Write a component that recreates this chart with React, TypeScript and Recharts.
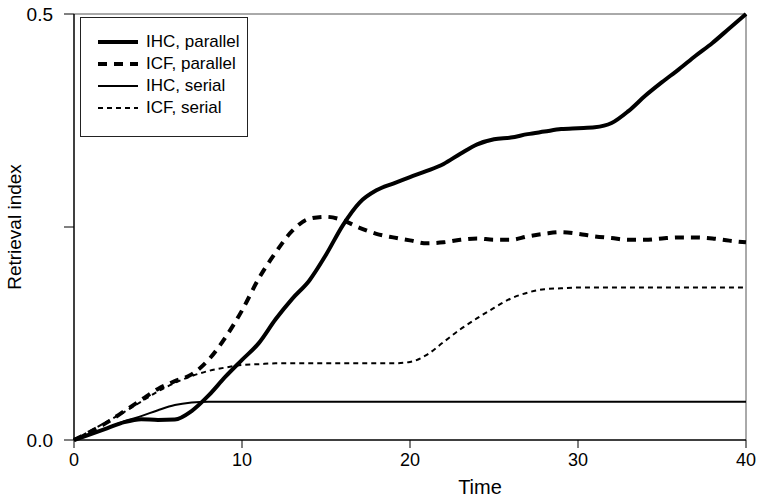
import React from 'react';
import { LineChart, Line, XAxis, YAxis, ReferenceLine } from 'recharts';

const times = [0, 1, 2, 3, 4, 5, 6, 7, 8, 9, 10, 11, 12, 13, 14, 15, 16, 17, 18, 19, 20,
  21, 22, 23, 24, 25, 26, 27, 28, 29, 30, 31, 32, 33, 34, 35, 36, 37, 38, 39, 40];

const ihcParallel = [0, 0.007, 0.014, 0.021, 0.0245, 0.0235, 0.024, 0.034, 0.052, 0.074, 0.094,
  0.1137, 0.1417, 0.166, 0.187, 0.2174, 0.252, 0.2787, 0.293, 0.301, 0.3086,
  0.3158, 0.324, 0.336, 0.347, 0.353, 0.355, 0.359, 0.362, 0.365, 0.366,
  0.367, 0.372, 0.386, 0.404, 0.42, 0.435, 0.451, 0.466, 0.483, 0.5];

const icfParallel = [0, 0.01, 0.021, 0.034, 0.047, 0.06, 0.069, 0.077, 0.094, 0.12, 0.152,
  0.1896, 0.22, 0.2457, 0.2596, 0.262, 0.258, 0.249, 0.242, 0.2378, 0.2343,
  0.2308, 0.232, 0.235, 0.2366, 0.235, 0.235, 0.239, 0.242, 0.244, 0.242,
  0.239, 0.237, 0.235, 0.235, 0.2366, 0.2378, 0.2378, 0.2366, 0.234, 0.232];

const ihcSerial = [0, 0.007, 0.014, 0.022, 0.028, 0.035, 0.041, 0.044, 0.045, 0.045, 0.045,
  0.045, 0.045, 0.045, 0.045, 0.045, 0.045, 0.045, 0.045, 0.045, 0.045,
  0.045, 0.045, 0.045, 0.045, 0.045, 0.045, 0.045, 0.045, 0.045, 0.045,
  0.045, 0.045, 0.045, 0.045, 0.045, 0.045, 0.045, 0.045, 0.045, 0.045];

const icfSerial = [0, 0.011, 0.022, 0.033, 0.045, 0.057, 0.067, 0.075, 0.081, 0.085, 0.088,
  0.089, 0.09, 0.09, 0.09, 0.09, 0.09, 0.09, 0.09, 0.09, 0.0916,
  0.1, 0.115, 0.13, 0.143, 0.155, 0.166, 0.173, 0.177, 0.178, 0.179,
  0.179, 0.179, 0.179, 0.179, 0.179, 0.179, 0.179, 0.179, 0.179, 0.179];

const xTicks = [0, 10, 20, 30, 40];
const yTicks = [0, 0.25, 0.5];
const yTickLabels: Record<number, string> = { 0: '0.0', 0.25: '', 0.5: '0.5' };

const series = [
  { key: 'ihcParallel', name: 'IHC, parallel', width: 4, dash: undefined },
  { key: 'icfParallel', name: 'ICF, parallel', width: 4, dash: '9 7' },
  { key: 'ihcSerial', name: 'IHC, serial', width: 2, dash: undefined },
  { key: 'icfSerial', name: 'ICF, serial', width: 2, dash: '5 4' },
];

const data = times.map((t, i) => ({
  t,
  ihcParallel: ihcParallel[i],
  icfParallel: icfParallel[i],
  ihcSerial: ihcSerial[i],
  icfSerial: icfSerial[i],
}));

const FONT = '"Liberation Sans", Arial, sans-serif';

function LegendBox() {
  return (
    <div
      style={{
        position: 'absolute',
        left: 80,
        top: 17,
        width: 168,
        height: 120,
        border: '1px solid #222',
        background: '#fff',
        boxSizing: 'border-box',
        fontFamily: FONT,
        fontSize: 17,
        paddingTop: 13,
      }}
    >
      {series.map((s) => (
        <div key={s.key} style={{ display: 'flex', alignItems: 'center', height: 22 }}>
          <svg width={50} height={10} style={{ marginLeft: 15 }}>
            <line x1={2} y1={5} x2={42} y2={5} stroke="#000" strokeWidth={s.width}
              strokeDasharray={s.dash} />
          </svg>
          <span>{s.name}</span>
        </div>
      ))}
    </div>
  );
}

export default function App() {
  return (
    <div style={{ position: 'absolute', left: 0, top: 0, width: 757, height: 497, background: '#fff' }}>
      <LineChart
        width={757}
        height={497}
        data={data}
        margin={{ top: 14, right: 11, bottom: 0, left: 14 }}
      >
        <XAxis
          dataKey="t"
          type="number"
          domain={[0, 40]}
          ticks={xTicks}
          tickSize={8}
          tickMargin={5}
          tickLine={{ stroke: '#000' }}
          axisLine={{ stroke: '#000', strokeWidth: 1.5 }}
          tick={{ fill: '#000', fontSize: 18, fontFamily: FONT }}
          height={57}
          label={{ value: 'Time', position: 'insideBottom', offset: 3, dx: 70, fill: '#000', fontSize: 20, fontFamily: FONT }}
        />
        <YAxis
          type="number"
          domain={[0, 0.5]}
          ticks={yTicks}
          tickSize={10}
          tickMargin={11}
          width={60}
          tickFormatter={(v: number) => yTickLabels[v] ?? ''}
          tickLine={{ stroke: '#000' }}
          axisLine={{ stroke: '#000', strokeWidth: 1.5 }}
          tick={{ fill: '#000', fontSize: 19, fontFamily: FONT }}
          label={{ value: 'Retrieval index', angle: -90, position: 'insideLeft', offset: 0, fill: '#000', fontSize: 19, fontFamily: FONT, style: { textAnchor: 'middle' } }}
        />
        <ReferenceLine y={0.5} stroke="#555" strokeWidth={1} />
        <ReferenceLine x={40} stroke="#555" strokeWidth={1} />
        {series.map((s) => (
          <Line
            key={s.key}
            dataKey={s.key}
            name={s.name}
            type="monotone"
            stroke="#000"
            strokeWidth={s.width}
            strokeDasharray={s.dash}
            dot={false}
            isAnimationActive={false}
          />
        ))}
      </LineChart>
      <LegendBox />
    </div>
  );
}
